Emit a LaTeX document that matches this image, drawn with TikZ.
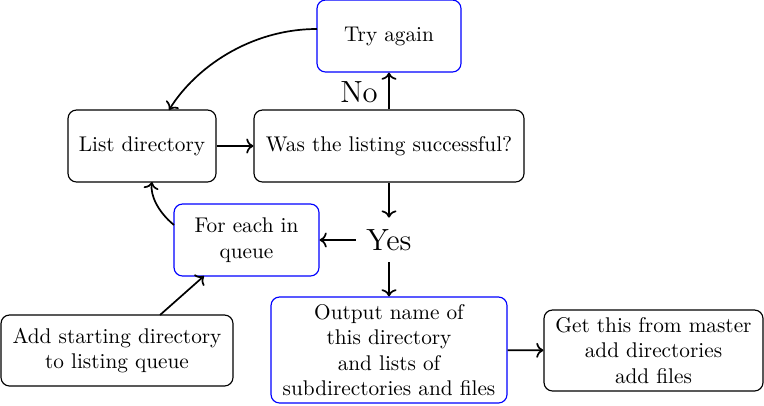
\documentclass[tikz,border=0pt]{standalone}
\usetikzlibrary{arrows.meta}
\begin{document}
\begin{tikzpicture}[x=0.47pt,y=-0.47pt,
  box/.style={draw=black,rounded corners=4pt,align=center,inner sep=2pt,line width=0.55pt},
  bluebox/.style={box,draw=blue},
  arr/.style={->,thick},
  lbl/.style={font=\Large,inner sep=1pt}]
\useasboundingbox (0,0) rectangle (764,405);
\node[bluebox,minimum width=144*0.47pt,minimum height=72*0.47pt] (try) at (389,36) {Try again};
\node[box,minimum width=148*0.47pt,minimum height=72*0.47pt] (list) at (142,146) {List directory};
\node[box,minimum width=270*0.47pt,minimum height=72*0.47pt] (was) at (389,146) {Was the listing successful?};
\node[bluebox,minimum width=145*0.47pt,minimum height=72*0.47pt] (each) at (246.5,240) {For each in\\queue};
\node[lbl,inner sep=0pt,minimum width=66*0.47pt,minimum height=44*0.47pt] (yes) at (389,240) {Yes};
\node[box,minimum width=232*0.47pt,minimum height=71*0.47pt] (add) at (117,350.5) {Add starting directory\\to listing queue};
\node[bluebox,minimum width=236*0.47pt,minimum height=106*0.47pt] (out) at (389,350) {Output name of\\this directory\\and lists of\\subdirectories and files};
\node[box,minimum width=219*0.47pt,minimum height=81*0.47pt] (get) at (653.5,350.5) {Get this from master\\add directories\\add files};
\coordinate (tryw) at (317,29);
\coordinate (listn) at (169,110);
\draw[arr] (tryw) .. controls (250,29) and (195,68) .. (listn);
\draw[arr] (list) -- (was);
\draw[arr] (was.north) -- (try.south);
\node[lbl] (no) at (359,92) {No};
\draw[arr] (was.south) -- (yes.north);
\draw[arr] (yes.west) -- (each.east);
\draw[arr] (yes.south) -- (out.north);
\coordinate (eachw) at (174,225);
\coordinate (lists) at (152,182);
\draw[arr] (eachw) .. controls (158,212) and (150,195) .. (lists);
\coordinate (addn) at (160,315);
\coordinate (eachs) at (204,276);
\draw[arr] (addn) -- (eachs);
\draw[arr] (out) -- (get);
\end{tikzpicture}
\end{document}
